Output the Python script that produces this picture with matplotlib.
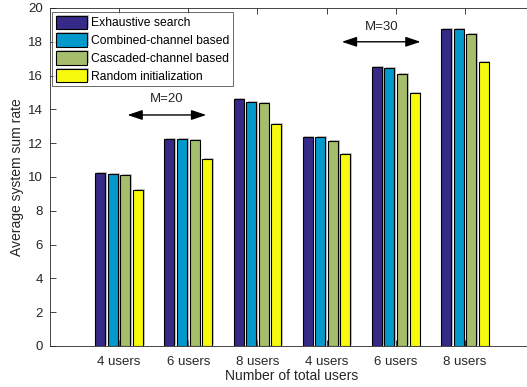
import numpy as np
import matplotlib
matplotlib.use('Agg')
import matplotlib.pyplot as plt
import matplotlib.patheffects as pe

plt.rcParams['font.family'] = ['Liberation Sans', 'DejaVu Sans']

groups = ['4 users', '6 users', '8 users', '4 users', '6 users', '8 users']
series = ['Exhaustive search', 'Combined-channel based',
          'Cascaded-channel based', 'Random initialization']
exhaustive = [10.24, 12.27, 14.62, 12.38, 16.49, 18.76]
combined = [10.18, 12.23, 14.46, 12.35, 16.43, 18.74]
cascaded = [10.10, 12.19, 14.36, 12.11, 16.08, 18.46]
random_init = [9.25, 11.07, 13.14, 11.34, 14.95, 16.82]
colors = ['#352a87', '#0399cc', '#a6be6b', '#f8fa0d']

fig = plt.figure(figsize=(5.27, 3.87), dpi=100)
ax = fig.add_axes([50/527, 41/387, 484/527, 338/387])

x = np.arange(1, len(groups) + 1)
step = 0.182
width = 0.145
shadow = [pe.SimplePatchShadow(offset=(1.2, 0.8), shadow_rgbFace='#888888', alpha=0.5), pe.Normal()]
for i, (vals, lab) in enumerate(zip([exhaustive, combined, cascaded, random_init], series)):
    bars = ax.bar(x + (i - 1.5) * step, vals, width, color=colors[i],
                  edgecolor='black', linewidth=0.8, label=lab, zorder=3)
    for b in bars:
        b.set_path_effects(shadow)

ax.set_xlim(0, 7)
ax.set_ylim(0, 20)
ax.set_xticks(x)
ax.set_xticklabels(groups)
ax.set_yticks(np.arange(0, 21, 2))
ax.tick_params(direction='in', top=True, right=False, length=4, width=0.6,
               labelsize=9.5, colors='#262626')
ax.tick_params(axis='x', pad=7)
ax.tick_params(axis='y', pad=5)
for s in ax.spines.values():
    s.set_color('#262626')
    s.set_linewidth(0.6)
ax.spines['right'].set_visible(False)
ax.set_xlabel('Number of total users', fontsize=10, color='#262626', labelpad=1)
ax.set_ylabel('Average system sum rate', fontsize=10, color='#262626', labelpad=3)

leg = ax.legend(loc='upper left', bbox_to_anchor=(52/527, 1 - 12/387),
                bbox_transform=fig.transFigure, fontsize=8.7, frameon=True,
                fancybox=False, borderpad=0.3, handlelength=2.6, handleheight=1.3,
                handletextpad=0.3, labelspacing=0.35, borderaxespad=0)
leg.get_frame().set_edgecolor('#262626')
leg.get_frame().set_linewidth(0.6)

arrow = dict(arrowstyle='<|-|>,head_length=0.9,head_width=0.3', color='black',
             lw=1.0, shrinkA=0, shrinkB=0)
ax.annotate('', xy=(1.12, 13.67), xytext=(2.26, 13.67), arrowprops=arrow)
ax.text(1.69, 14.25, 'M=20', ha='center', va='bottom', fontsize=9.5, color='#262626')
ax.annotate('', xy=(4.22, 18.0), xytext=(5.36, 18.0), arrowprops=arrow)
ax.text(4.79, 18.55, 'M=30', ha='center', va='bottom', fontsize=9.5, color='#262626')

fig.savefig('out.png', dpi=100)
